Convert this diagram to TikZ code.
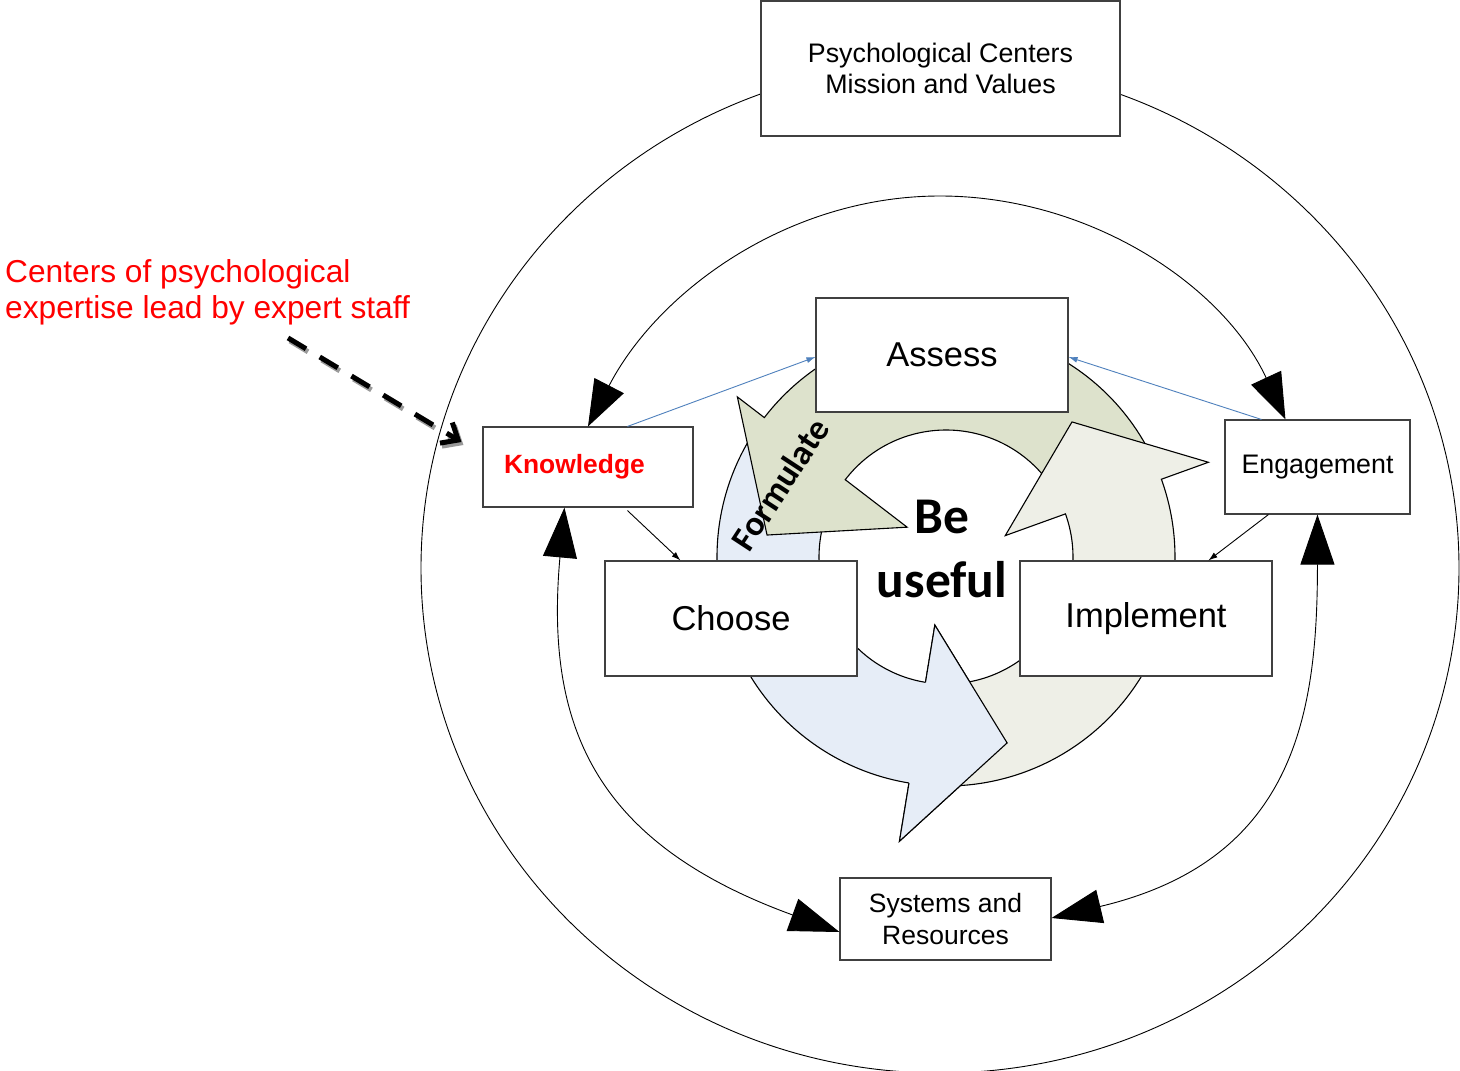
\documentclass[tikz,border=0pt]{standalone}
\usepackage{fontspec}
\setmainfont{Liberation Sans}
\newfontfamily\calibfont{Carlito}
\usetikzlibrary{arrows.meta,calc}
\definecolor{ringgreen}{RGB}{221,226,204}
\definecolor{ringblue}{RGB}{230,237,247}
\definecolor{ringlight}{RGB}{238,239,231}
\definecolor{linkblue}{RGB}{79,129,189}
\definecolor{boxline}{RGB}{64,64,64}
\begin{document}
\begin{tikzpicture}[x=1pt,y=-1pt,
  box/.style={draw=boxline, line width=1.1pt, fill=white, inner sep=0pt, align=center},
  thinline/.style={line width=0.9pt},
  ringarrow/.style={draw=black, line width=1.1pt, line join=miter},
  smalltip/.style={-{Latex[length=9pt,width=6pt]}},
  toptips/.style={{Triangle[length=46pt,width=33pt]}-{Triangle[length=46pt,width=33pt]}},
  lowtips/.style={{Triangle[length=50pt,width=34pt]}-{Triangle[length=50pt,width=34pt]}},
  bigfont/.style={font=\fontsize{34.5}{40}\selectfont},
  midfont/.style={font=\fontsize{26.8}{31}\selectfont}
]
\useasboundingbox (0,0) rectangle (1460,1071);
\fill[white] (0,0) rectangle (1460,1071);

% outer circle
\draw[thinline] (940,568) ellipse [x radius=519, y radius=505];

% central cycle
\begin{scope}[shift={(946,557)}]
  \filldraw[ringarrow, fill=ringblue] (212:229) arc[start angle=212, end angle=99.3, radius=229]
    -- (99.3:288) -- (71.8:195.7) -- (99.3:69) -- (99.3:127)
    arc[start angle=99.3, end angle=212, radius=127] -- cycle;
  \filldraw[ringarrow, fill=ringgreen] (-22:229) arc[start angle=-22, end angle=-142.5, radius=229]
    -- (-142.5:263) -- (-173:180.3) -- (-142.5:49) -- (-142.5:127)
    arc[start angle=-142.5, end angle=-22, radius=127] -- cycle;
  \filldraw[ringarrow, fill=ringlight] (95:229) arc[start angle=95, end angle=-19.85, radius=229]
    -- (-19.85:279) -- (-47:184.7) -- (-19.85:63) -- (-19.85:127)
    arc[start angle=-19.85, end angle=95, radius=127] -- cycle;
  % blue head again on top
  \fill[ringblue] (99.3:288) -- (71.8:195.7) -- (99.3:69) -- cycle;
  \draw[ringarrow] (99.3:229) -- (99.3:288) -- (71.8:195.7) -- (99.3:69) -- (99.3:127);
\end{scope}

\node[rotate=56.8, inner sep=0pt, font=\calibfont\bfseries\fontsize{35}{40}\selectfont] (form) at (780,484) {Formulate};

% boxes
\node[box, midfont, minimum width=359pt, minimum height=135pt] (psych) at (940.5,68.5) {Psychological Centers\\Mission and Values};
\node[box, bigfont, minimum width=252pt, minimum height=114pt] (assess) at (942,355) {Assess};
\node[box, minimum width=210pt, minimum height=80pt, text width=168pt, inner xsep=21pt, align=left,
      text=red, font=\bfseries\fontsize{26.4}{31}\selectfont] (know) at (588,467) {Knowledge};
\node[box, midfont, minimum width=185pt, minimum height=94pt] (eng) at (1317.5,467) {Engagement};
\node[box, bigfont, minimum width=252pt, minimum height=115pt] (choose) at (731,618.5) {Choose};
\node[box, bigfont, minimum width=252pt, minimum height=115pt] (impl) at (1146,618.5) {Implement};
\node[box, font=\fontsize{26.5}{31.7}\selectfont, minimum width=211pt, minimum height=82pt] (sys) at (945.5,919) {Systems and\\Resources};

\node[font=\calibfont\bfseries\fontsize{51.5}{63.4}\selectfont, align=center, inner sep=0pt, anchor=north] (be) at (942,500) {Be\\useful};

\node[anchor=north west, inner sep=0pt, align=left, text=red, font=\fontsize{31.7}{36}\selectfont] (ctext) at (5,259) {Centers of psychological\\expertise lead by expert staff};

% connectors
\coordinate (apex) at (940,196);
\draw[thinline, toptips] (know.north) .. controls +(69.8,-135) and +(-152,0) .. (apex)
   .. controls +(148.7,0) and +(-62.6,-134.9) .. ($(eng.north west)+(61,0)$);
\draw[thinline, lowtips] ($(know.south west)+(82,0)$) .. controls +(-19.8,219) and +(-244.3,-88.9) .. ($(sys.west)+(0,13)$);
\draw[thinline, lowtips] ($(eng.south west)+(93,0)$) .. controls +(0,200) and +(243.3,-57.8) .. ($(sys.east)+(0,-1)$);

\draw[linkblue, line width=0.9pt, smalltip] ($(know.north west)+(145,0)$) -- ($(assess.west)+(0,2)$);
\draw[linkblue, line width=0.9pt, smalltip] ($(eng.north west)+(37,0)$) -- ($(assess.east)+(0,2)$);
\draw[thinline, smalltip] ($(know.south west)+(145,3)$) -- ($(choose.north west)+(76,0)$);
\draw[thinline, smalltip] ($(eng.south west)+(44,0)$) -- ($(impl.north west)+(189,0)$);

% dashed pointer with shadow
\draw[line width=5pt, black!40, dash pattern=on 21pt off 16pt, -{Straight Barb[length=14pt,width=24pt]}]
   ($(ctext.south west)+(285,16)$) -- ($(know.west)+(-19,-22)$);
\draw[line width=5pt, black, dash pattern=on 21pt off 16pt, -{Straight Barb[length=14pt,width=24pt]}]
   ($(ctext.south west)+(283,13)$) -- ($(know.west)+(-21,-25)$);
\end{tikzpicture}
\end{document}
